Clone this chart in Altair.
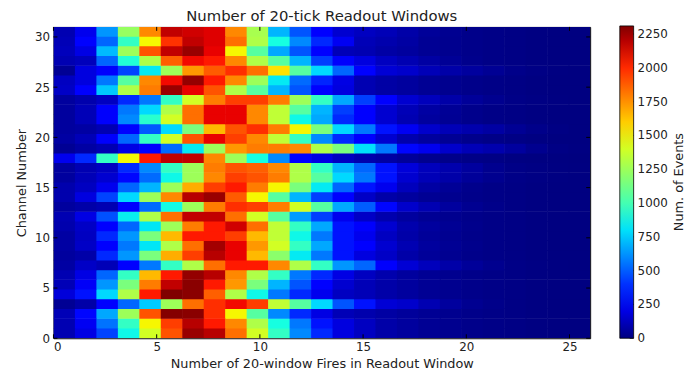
import altair as alt
import pandas as pd

# ---- histogram definition ----
x_range = [0, 26]
y_range = [0, 31]
n_xbins = 25
n_ybins = 32
x_ticks = [0, 5, 10, 15, 20, 25]
y_ticks = [0, 5, 10, 15, 20, 25, 30]
cbar_ticks = [0, 250, 500, 750, 1000, 1250, 1500, 1750, 2000, 2250]
cbar_title = ["Num. of Events"]
vmax = 2310

# ---- counts per channel (25 x-bins each) ----
ch00 = [100, 200, 440, 850, 1400, 1900, 2260, 2200, 1830, 1400, 950, 600, 380, 190, 130, 80, 60, 40, 30, 20, 15, 10, 5, 3, 2]
ch01 = [100, 230, 550, 950, 1500, 1950, 2200, 2040, 1770, 1300, 870, 560, 330, 190, 130, 80, 60, 40, 30, 20, 15, 10, 5, 3, 2]
ch02 = [110, 300, 670, 1250, 1900, 2300, 2290, 1990, 1500, 1050, 600, 380, 200, 110, 90, 70, 55, 40, 30, 20, 15, 10, 5, 3, 2]
ch03 = [40, 80, 260, 520, 750, 1250, 1830, 1990, 2080, 1950, 1350, 1050, 780, 480, 330, 170, 150, 100, 60, 35, 20, 10, 5, 3, 2]
ch04 = [180, 330, 780, 1300, 2040, 2310, 2290, 1870, 1300, 850, 560, 380, 220, 130, 110, 80, 60, 40, 30, 20, 15, 10, 5, 3, 2]
ch05 = [110, 240, 630, 1150, 1800, 2180, 2290, 2040, 1730, 1150, 700, 480, 290, 160, 110, 80, 60, 40, 30, 20, 15, 10, 5, 3, 2]
ch06 = [100, 200, 520, 950, 1650, 2040, 2270, 2200, 1770, 1300, 950, 560, 380, 200, 130, 90, 60, 40, 30, 20, 15, 10, 5, 3, 2]
ch07 = [70, 140, 110, 260, 560, 950, 1300, 1830, 2040, 2040, 1770, 1300, 950, 630, 520, 250, 170, 120, 80, 50, 30, 15, 8, 4, 2]
ch08 = [60, 80, 380, 630, 1150, 1680, 1950, 2200, 2100, 1650, 1200, 820, 560, 330, 190, 140, 80, 50, 35, 20, 15, 10, 5, 3, 2]
ch09 = [70, 140, 260, 560, 810, 1300, 1830, 2240, 2100, 1730, 1400, 950, 670, 330, 280, 160, 100, 60, 40, 25, 15, 10, 5, 3, 2]
ch10 = [70, 130, 380, 630, 1150, 1650, 2040, 2040, 1950, 1650, 1350, 850, 560, 330, 220, 130, 80, 50, 35, 20, 15, 10, 5, 3, 2]
ch11 = [90, 140, 260, 520, 810, 1250, 1800, 2040, 2150, 1830, 1350, 950, 670, 330, 250, 160, 90, 60, 40, 25, 15, 10, 5, 3, 2]
ch12 = [100, 200, 470, 830, 1300, 1830, 2180, 2180, 1830, 1400, 1050, 640, 430, 220, 140, 90, 60, 40, 30, 20, 15, 10, 5, 3, 2]
ch13 = [60, 80, 100, 260, 530, 860, 1250, 1800, 1990, 1950, 1800, 1400, 1050, 670, 500, 300, 150, 100, 60, 35, 20, 10, 5, 3, 2]
ch14 = [90, 190, 440, 780, 1250, 1770, 2200, 2260, 1880, 1500, 1050, 700, 430, 260, 140, 80, 60, 40, 30, 20, 15, 10, 5, 3, 2]
ch15 = [90, 130, 220, 520, 700, 1250, 1680, 1950, 2040, 1800, 1500, 1150, 820, 520, 330, 220, 120, 70, 45, 25, 15, 10, 5, 3, 2]
ch16 = [60, 110, 160, 300, 530, 850, 1250, 1770, 1950, 1900, 1800, 1300, 1050, 780, 560, 330, 160, 110, 80, 50, 30, 15, 8, 4, 2]
ch17 = [60, 100, 130, 380, 600, 950, 1250, 1800, 1900, 1870, 1770, 1300, 950, 700, 520, 330, 180, 120, 90, 60, 30, 15, 8, 4, 2]
ch18 = [220, 380, 950, 1490, 2040, 2180, 2180, 1770, 1250, 870, 600, 290, 200, 130, 90, 70, 50, 30, 20, 15, 10, 5, 3, 2, 1]
ch19 = [40, 70, 100, 200, 280, 530, 820, 1250, 1730, 1800, 1800, 1770, 1300, 1150, 800, 560, 300, 220, 150, 110, 90, 60, 30, 10, 4]
ch20 = [70, 110, 250, 520, 950, 1400, 1900, 2100, 1950, 1770, 1350, 950, 600, 380, 260, 160, 90, 60, 40, 25, 15, 10, 5, 3, 2]
ch21 = [60, 70, 100, 260, 490, 780, 1150, 1650, 1900, 1990, 1800, 1500, 1150, 780, 560, 330, 230, 150, 110, 90, 70, 40, 20, 8, 3]
ch22 = [60, 110, 250, 600, 920, 1400, 1830, 2100, 2100, 1770, 1350, 850, 670, 380, 260, 160, 100, 60, 40, 25, 15, 10, 5, 3, 2]
ch23 = [60, 110, 250, 560, 780, 1300, 1830, 2100, 2100, 1770, 1350, 1050, 700, 430, 260, 160, 110, 70, 45, 25, 15, 10, 5, 3, 2]
ch24 = [60, 90, 130, 380, 560, 950, 1400, 1800, 1950, 1950, 1800, 1250, 950, 670, 430, 260, 160, 120, 80, 50, 30, 15, 8, 4, 2]
ch25 = [140, 280, 740, 1300, 1800, 2260, 2100, 1900, 1300, 1050, 700, 480, 290, 190, 100, 75, 60, 40, 30, 20, 15, 10, 5, 3, 2]
ch26 = [130, 190, 560, 1050, 1770, 2080, 2270, 2040, 1770, 1250, 820, 530, 370, 200, 100, 75, 60, 40, 30, 20, 15, 10, 5, 3, 2]
ch27 = [40, 190, 250, 440, 820, 1250, 1730, 1880, 1990, 1830, 1550, 1050, 780, 520, 290, 170, 150, 110, 80, 60, 40, 20, 10, 5, 3]
ch28 = [100, 120, 520, 900, 1300, 1870, 2080, 2040, 1770, 1300, 1050, 700, 430, 250, 190, 130, 100, 70, 45, 25, 15, 10, 5, 3, 2]
ch29 = [120, 200, 710, 1250, 1900, 2180, 2260, 2100, 1500, 1050, 670, 480, 290, 110, 100, 75, 60, 40, 30, 20, 15, 10, 5, 3, 2]
ch30 = [110, 290, 520, 950, 1500, 1980, 2180, 2120, 1830, 1300, 870, 600, 380, 230, 110, 90, 70, 40, 30, 20, 15, 10, 5, 3, 2]
ch31 = [100, 220, 630, 1230, 1770, 2180, 2150, 2120, 1770, 1280, 700, 480, 260, 160, 130, 110, 80, 50, 35, 20, 15, 10, 5, 3, 2]

channels = [ch00, ch01, ch02, ch03, ch04, ch05, ch06, ch07, ch08, ch09,
            ch10, ch11, ch12, ch13, ch14, ch15, ch16, ch17, ch18, ch19,
            ch20, ch21, ch22, ch23, ch24, ch25, ch26, ch27, ch28, ch29,
            ch30, ch31]

# jet colormap breakpoints (matplotlib segment data)
jet_t = [0.0, 0.11, 0.125, 0.34, 0.35, 0.375, 0.64, 0.65, 0.66, 0.89, 0.91, 1.0]
jet_c = ["#000080", "#0000ff", "#0000ff", "#00dbff", "#00e5f7", "#15ffe2",
         "#eeff08", "#f7f600", "#ffec00", "#ff1300", "#e80000", "#800000"]

x_edges = [x_range[0] + i * (x_range[1] - x_range[0]) / n_xbins for i in range(n_xbins + 1)]
y_edges = [y_range[0] + j * (y_range[1] - y_range[0]) / n_ybins for j in range(n_ybins + 1)]

rows = []
for j, row in enumerate(channels):
    for i, v in enumerate(row):
        rows.append({"x0": x_edges[i], "x1": x_edges[i + 1],
                     "y0": y_edges[j], "y1": y_edges[j + 1], "count": v})
df = pd.DataFrame(rows)

W, H = 543, 315
FONT = "DejaVu Sans"
TXT = "#222222"

# colorbar geometry (relative to plot origin)
CB_X, CB_Y, CB_LEN, CB_W = 573, -1, 316, 14

xscale = alt.Scale(domain=x_range, nice=False, zero=False)
yscale = alt.Scale(domain=y_range, nice=False, zero=False)
cscale = alt.Scale(domain=[t * vmax for t in jet_t], range=jet_c,
                   interpolate="rgb", clamp=True)
cbar_scale = alt.Scale(domain=[0, vmax], range=[CB_Y + CB_LEN, CB_Y], nice=False, zero=False)

xaxis = alt.Axis(values=x_ticks, title="Number of 20-window Fires in Readout Window",
                 labelPadding=3, titlePadding=6, format="d")
yaxis = alt.Axis(values=y_ticks, title="Channel Number",
                 labelPadding=4, titlePadding=6, format="d")

legend = alt.Legend(
    type="gradient", title=None, orient="none", legendX=CB_X, legendY=CB_Y,
    direction="vertical", gradientLength=CB_LEN, gradientThickness=CB_W,
    values=[0], labelOpacity=0, padding=0,
    gradientStrokeColor="black", gradientStrokeWidth=0.8,
)

# slight overlap of neighbouring cells hides anti-aliasing seams
heat = alt.Chart(df).mark_rect(x2Offset=0.6, y2Offset=-0.6, clip=True).encode(
    x=alt.X("x0:Q", scale=xscale, axis=xaxis),
    x2="x1",
    y=alt.Y("y0:Q", scale=yscale, axis=yaxis),
    y2="y1",
    color=alt.Color("count:Q", scale=cscale, legend=legend),
)

xt = pd.DataFrame({"v": x_ticks})
yt = pd.DataFrame({"v": y_ticks})
ct = pd.DataFrame({"v": cbar_ticks})
tick_style = dict(color="black", strokeWidth=1)
xtick_b = alt.Chart(xt).mark_rule(**tick_style).encode(
    x=alt.X("v:Q", scale=xscale, axis=xaxis), y=alt.value(H), y2=alt.value(H - 4))
xtick_t = alt.Chart(xt).mark_rule(**tick_style).encode(
    x=alt.X("v:Q", scale=xscale, axis=xaxis), y=alt.value(0), y2=alt.value(4))
ytick_l = alt.Chart(yt).mark_rule(**tick_style).encode(
    y=alt.Y("v:Q", scale=yscale, axis=None), x=alt.value(0), x2=alt.value(4))
ytick_r = alt.Chart(yt).mark_rule(**tick_style).encode(
    y=alt.Y("v:Q", scale=yscale, axis=None), x=alt.value(W), x2=alt.value(W - 4))

cbar_ticks_m = alt.Chart(ct).mark_rule(color="black", strokeWidth=0.8).encode(
    y=alt.Y("v:Q", scale=cbar_scale, axis=None),
    x=alt.value(CB_X + CB_W - 4), x2=alt.value(CB_X + CB_W))
cbar_labels = alt.Chart(ct).mark_text(
    font=FONT, fontSize=12, color=TXT, align="left", baseline="middle"
).encode(
    y=alt.Y("v:Q", scale=cbar_scale, axis=None),
    x=alt.value(CB_X + CB_W + 4),
    text=alt.Text("v:Q", format="d"),
)

cbar_label = alt.Chart(pd.DataFrame({"t": cbar_title})).mark_text(
    angle=270, font=FONT, fontSize=13, color=TXT, align="center", baseline="middle"
).encode(text="t:N", x=alt.value(633), y=alt.value(157))

chart = alt.layer(
    heat, xtick_b, xtick_t, ytick_l, ytick_r, cbar_ticks_m, cbar_labels, cbar_label
).resolve_scale(y="independent").properties(
    width=W, height=H,
    title=alt.TitleParams("Number of 20-tick Readout Windows", fontSize=15,
                          font=FONT, fontWeight="normal", color=TXT,
                          anchor="middle", offset=2),
    autosize=alt.AutoSizeParams(type="none"),
    padding={"left": 46, "top": 17, "right": 99, "bottom": 31},
).configure_view(
    stroke="black", strokeWidth=1
).configure_axis(
    domain=False, ticks=False, grid=False,
    labelFont=FONT, labelFontSize=12, labelColor=TXT,
    titleFont=FONT, titleFontSize=13, titleFontWeight="normal", titleColor=TXT,
)

chart.save("out.html", embed_options={"renderer": "svg", "actions": False})
